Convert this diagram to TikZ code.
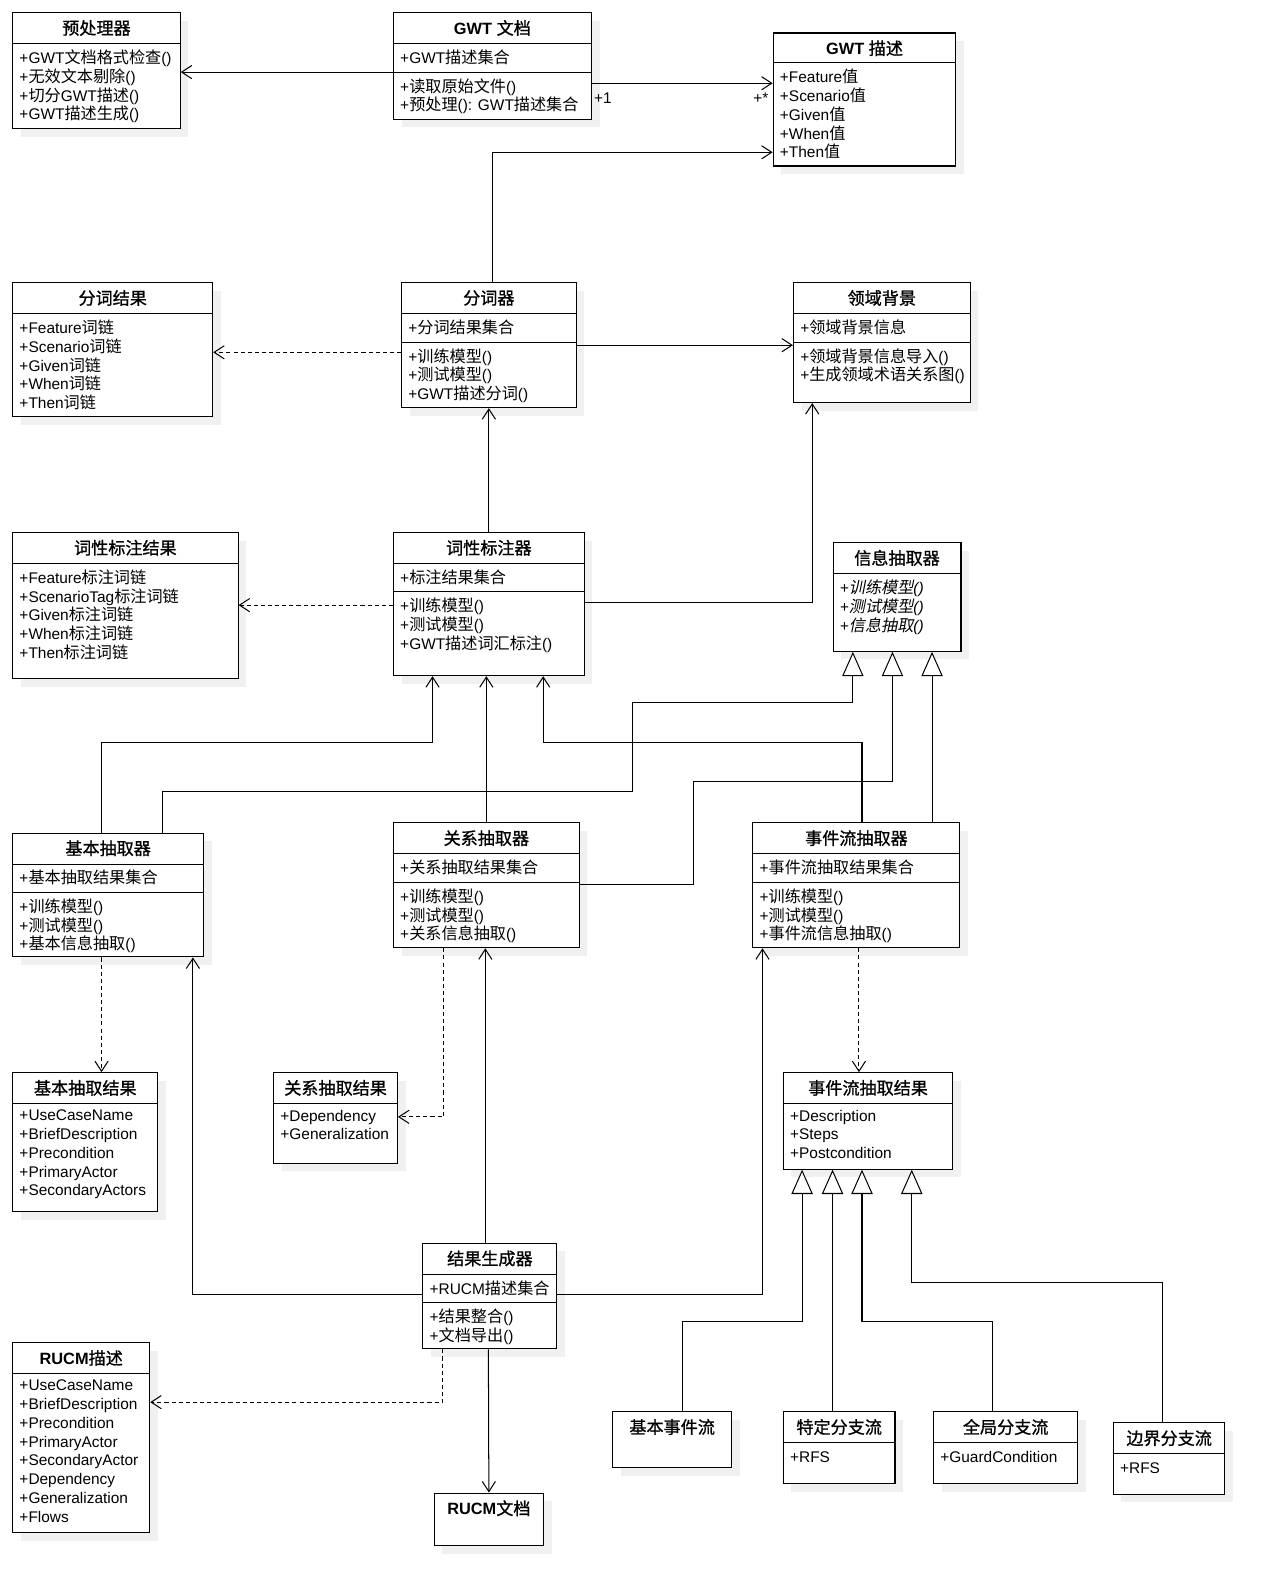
\documentclass[tikz,border=0pt]{standalone}
\usepackage{fontspec}
\setmainfont{Liberation Sans}
\newfontfamily\latfont{Liberation Sans}
\newfontfamily\cjkfont{Noto Sans CJK SC}[Scale=1.046,
  ItalicFont={Noto Sans CJK SC}, ItalicFeatures={FakeSlant=0.2},
  BoldFont={Noto Sans CJK SC}, BoldFeatures={FakeBold=1}]
\usetikzlibrary{arrows.meta, shadows}

% Han characters are set in the CJK font
\XeTeXinterchartokenstate=1
\newXeTeXintercharclass\hancls
\newcount\hancnt
\hancnt="4E00
\loop
  \XeTeXcharclass\hancnt=\hancls
  \advance\hancnt by 1
\ifnum\hancnt<"A000 \repeat
\XeTeXinterchartoks 0 \hancls = {\cjkfont}
\XeTeXinterchartoks 4095 \hancls = {\cjkfont}
\XeTeXinterchartoks \hancls 0 = {\latfont}
\XeTeXinterchartoks \hancls 4095 = {\latfont}

\newcommand\basefont{\fontsize{15.2}{18.5}\selectfont}
\newcommand\titlefont{\fontsize{16.1}{18.5}\selectfont\bfseries}

% box and title of a class
\newcommand\umlclass[6]{%
  \node[classbox, minimum width=#4, minimum height=#5] (#1) at (#2,#3) {};
  \node[classtitle] (#1-title) at ([yshift=-15.5pt]#1.north) {#6};}
% compartment line
\newcommand\umlsep[2]{%
  \draw[sepline] ([yshift=-#2pt]#1.north west) -- ([yshift=-#2pt]#1.north east);}

\begin{document}
\begin{tikzpicture}[
x=1pt, y=-1pt,
every node/.style = {font=\basefont},
classbox/.style = {draw, line width=1pt, fill=white, anchor=north west, inner sep=0pt,
  general shadow={fill=black!6, shadow xshift=8pt, shadow yshift=-8pt}},
classtitle/.style = {font=\titlefont, inner sep=0pt},
members/.style = {anchor=north west, align=left, inner sep=0pt, execute at begin node=\strut},
sepline/.style = {line width=1pt},
assoc/.style = {line width=1pt, -{Straight Barb[length=10pt, width=13pt]}},
dep/.style = {assoc, dash pattern=on 4pt off 3pt},
inherits/.style = {line width=1pt, -{Triangle[open, fill=white, length=24pt, width=21pt]}},
mult/.style = {inner sep=0pt}
]
\fill[white] (0,0) rectangle (1254,1568);
\useasboundingbox (0,0) rectangle (1254,1568);

% GWT side
\umlclass{pre}{12}{12}{165}{114}{预处理器}
\umlsep{pre}{31}
\node[members] (pre-ops) at ([xshift=7pt,yshift=-37pt]pre.north west)
  {+GWT文档格式检查()\\+无效文本剔除()\\+切分GWT描述()\\+GWT描述生成()};

\umlclass{gwtdoc}{387}{12}{195}{105}{GWT 文档}
\umlsep{gwtdoc}{31}
\umlsep{gwtdoc}{59}
\node[members] (gwtdoc-attr) at ([xshift=7pt,yshift=-37pt]gwtdoc.north west) {+GWT描述集合};
\node[members] (gwtdoc-ops) at ([xshift=7pt,yshift=-65pt]gwtdoc.north west)
  {+读取原始文件()\\+预处理(): GWT描述集合};

\umlclass{gwtdesc}{761}{32}{180}{131}{GWT 描述}
\umlsep{gwtdesc}{30}
\node[members] (gwtdesc-attr) at ([xshift=7pt,yshift=-36pt]gwtdesc.north west)
  {+Feature值\\+Scenario值\\+Given值\\+When值\\+Then值};

% segmenting and tagging
\umlclass{segres}{12}{278}{197}{132}{分词结果}
\umlsep{segres}{31}
\node[members] (segres-attr) at ([xshift=7pt,yshift=-37pt]segres.north west)
  {+Feature词链\\+Scenario词链\\+Given词链\\+When词链\\+Then词链};

\umlclass{seg}{395}{278}{172}{123}{分词器}
\umlsep{seg}{31}
\umlsep{seg}{59}
\node[members] (seg-attr) at ([xshift=7pt,yshift=-37pt]seg.north west) {+分词结果集合};
\node[members] (seg-ops) at ([xshift=7pt,yshift=-65pt]seg.north west)
  {+训练模型()\\+测试模型()\\+GWT描述分词()};

\umlclass{domain}{781}{278}{174}{118}{领域背景}
\umlsep{domain}{31}
\umlsep{domain}{59}
\node[members] (domain-attr) at ([xshift=7pt,yshift=-37pt]domain.north west) {+领域背景信息};
\node[members] (domain-ops) at ([xshift=7pt,yshift=-65pt]domain.north west)
  {+领域背景信息导入()\\+生成领域术语关系图()};

\umlclass{tagres}{12}{524}{222}{144}{词性标注结果}
\umlsep{tagres}{31}
\node[members] (tagres-attr) at ([xshift=7pt,yshift=-37pt]tagres.north west)
  {+Feature标注词链\\+ScenarioTag标注词链\\+Given标注词链\\+When标注词链\\+Then标注词链};

\umlclass{tagger}{387}{524}{188}{141}{词性标注器}
\umlsep{tagger}{31}
\umlsep{tagger}{59}
\node[members] (tagger-attr) at ([xshift=7pt,yshift=-37pt]tagger.north west) {+标注结果集合};
\node[members] (tagger-ops) at ([xshift=7pt,yshift=-65pt]tagger.north west)
  {+训练模型()\\+测试模型()\\+GWT描述词汇标注()};

% extractors
\umlclass{ie}{820}{534}{126}{107}{信息抽取器}
\umlsep{ie}{31}
\node[members, font=\basefont\itshape] (ie-ops) at ([xshift=7pt,yshift=-37pt]ie.north west)
  {+训练模型()\\+测试模型()\\+信息抽取()};

\umlclass{basic}{12}{820}{188}{122}{基本抽取器}
\umlsep{basic}{31}
\umlsep{basic}{59}
\node[members] (basic-attr) at ([xshift=7pt,yshift=-37pt]basic.north west) {+基本抽取结果集合};
\node[members] (basic-ops) at ([xshift=7pt,yshift=-65pt]basic.north west)
  {+训练模型()\\+测试模型()\\+基本信息抽取()};

\umlclass{rel}{387}{810}{183}{123}{关系抽取器}
\umlsep{rel}{31}
\umlsep{rel}{59}
\node[members] (rel-attr) at ([xshift=7pt,yshift=-37pt]rel.north west) {+关系抽取结果集合};
\node[members] (rel-ops) at ([xshift=7pt,yshift=-65pt]rel.north west)
  {+训练模型()\\+测试模型()\\+关系信息抽取()};

\umlclass{evt}{741}{810}{204}{123}{事件流抽取器}
\umlsep{evt}{31}
\umlsep{evt}{59}
\node[members] (evt-attr) at ([xshift=7pt,yshift=-37pt]evt.north west) {+事件流抽取结果集合};
\node[members] (evt-ops) at ([xshift=7pt,yshift=-65pt]evt.north west)
  {+训练模型()\\+测试模型()\\+事件流信息抽取()};

% extraction results
\umlclass{basicres}{12}{1056}{143}{137}{基本抽取结果}
\umlsep{basicres}{31}
\node[members] (basicres-attr) at ([xshift=7pt,yshift=-37pt]basicres.north west)
  {+UseCaseName\\+BriefDescription\\+Precondition\\+PrimaryActor\\+SecondaryActors};

\umlclass{relres}{269}{1056}{122}{89}{关系抽取结果}
\umlsep{relres}{31}
\node[members] (relres-attr) at ([xshift=7pt,yshift=-37pt]relres.north west)
  {+Dependency\\+Generalization};

\umlclass{evtres}{771}{1056}{167}{95}{事件流抽取结果}
\umlsep{evtres}{31}
\node[members] (evtres-attr) at ([xshift=7pt,yshift=-37pt]evtres.north west)
  {+Description\\+Steps\\+Postcondition};

% output
\umlclass{gen}{416}{1224}{132}{104}{结果生成器}
\umlsep{gen}{31}
\umlsep{gen}{59}
\node[members] (gen-attr) at ([xshift=7pt,yshift=-37pt]gen.north west) {+RUCM描述集合};
\node[members] (gen-ops) at ([xshift=7pt,yshift=-65pt]gen.north west)
  {+结果整合()\\+文档导出()};

\umlclass{rucm}{12}{1322}{135}{187}{RUCM描述}
\umlsep{rucm}{31}
\node[members] (rucm-attr) at ([xshift=7pt,yshift=-37pt]rucm.north west)
  {+UseCaseName\\+BriefDescription\\+Precondition\\+PrimaryActor\\+SecondaryActor\\+Dependency\\+Generalization\\+Flows};

\umlclass{rucmdoc}{427}{1470}{108}{52}{RUCM文档}

% flows
\umlclass{bflow}{603}{1390}{117}{55}{基本事件流}

\umlclass{sflow}{771}{1390}{110}{71}{特定分支流}
\umlsep{sflow}{31}
\node[members] (sflow-attr) at ([xshift=7pt,yshift=-37pt]sflow.north west) {+RFS};

\umlclass{gflow}{919}{1390}{142}{71}{全局分支流}
\umlsep{gflow}{31}
\node[members] (gflow-attr) at ([xshift=7pt,yshift=-37pt]gflow.north west) {+GuardCondition};

\umlclass{bdflow}{1096}{1401}{110}{70}{边界分支流}
\umlsep{bdflow}{31}
\node[members] (bdflow-attr) at ([xshift=7pt,yshift=-37pt]bdflow.north west) {+RFS};

% connectors, top part
\coordinate (gwtdoc-l) at ([yshift=-59pt]gwtdoc.north west);
\draw[assoc] (gwtdoc-l) -- (gwtdoc-l -| pre.east);
\coordinate (gwtdoc-r) at ([yshift=-70pt]gwtdoc.north east);
\draw[assoc] (gwtdoc-r) -- (gwtdoc-r -| gwtdesc.west);
\node[mult, anchor=west] (one) at ([xshift=2pt,yshift=-85pt]gwtdoc.north east) {+1};
\node[mult, anchor=east] (many) at ([xshift=-4pt,yshift=-65pt]gwtdesc.north west) {+*};
\draw[assoc] ([xshift=90pt]seg.north west) |- ([yshift=-118pt]gwtdesc.north west);

\coordinate (seg-l) at ([yshift=-69pt]seg.north west);
\draw[dep] (seg-l) -- (seg-l -| segres.east);
\coordinate (seg-r) at ([yshift=-62pt]seg.north east);
\draw[assoc] (seg-r) -- (seg-r -| domain.west);
\draw[assoc] (tagger.north) -- (tagger.north |- seg.south);

\coordinate (tagger-l) at ([yshift=-72pt]tagger.north west);
\draw[dep] (tagger-l) -- (tagger-l -| tagres.east);
\coordinate (tagger-r) at ([yshift=-69pt]tagger.north east);
\draw[assoc] (tagger-r) -| ([xshift=19pt]domain.south west);

% extractors use the tagger and inherit from the information extractor
\draw[assoc] ([xshift=88pt]basic.north west) -- ++(0,-89) -| ([xshift=39pt]tagger.south west);
\draw[assoc] (rel.north) -- (rel.north |- tagger.south);
\draw[assoc] ([xshift=108pt]evt.north west) -- ++(0,-79) -| ([xshift=148pt]tagger.south west);
\draw[inherits] ([xshift=148pt]basic.north west) -- ++(0,-40) -- ++(463,0) -- ++(0,-88) -| ([xshift=20pt]ie.south west);
\coordinate (rel-r) at ([yshift=-61pt]rel.north east);
\draw[inherits] (rel-r) -- ++(112,0) -- ++(0,-101) -| ([xshift=59pt]ie.south west);
\coordinate (evt-t) at ([xshift=177pt]evt.north west);
\draw[inherits] (evt-t) -- (evt-t |- ie.south);

% results of the extractors
\coordinate (basic-b) at ([xshift=88pt]basic.south west);
\draw[dep] (basic-b) -- (basic-b |- basicres.north);
\draw[dep] ([xshift=50pt]rel.south west) |- ([yshift=-44pt]relres.north east);
\coordinate (evt-b) at ([xshift=105pt]evt.south west);
\draw[dep] (evt-b) -- (evt-b |- evtres.north);

% result generator
\coordinate (gen-l) at ([yshift=-51pt]gen.north west);
\draw[assoc] (gen-l) -| ([xshift=178pt]basic.south west);
\coordinate (gen-t) at ([xshift=62pt]gen.north west);
\draw[assoc] (gen-t) -- (gen-t |- rel.south);
\coordinate (gen-r) at ([yshift=-51pt]gen.north east);
\draw[assoc] (gen-r) -| ([xshift=10pt]evt.south west);
\draw[dep] ([xshift=20pt]gen.south west) |- ([yshift=-59pt]rucm.north east);
\draw[assoc] ([xshift=65pt]gen.south west) -- (rucmdoc.north);

% event flow kinds
\draw[inherits] ([xshift=69pt]bflow.north west) -- ++(0,-88) -| ([xshift=19pt]evtres.south west);
\draw[inherits] ([xshift=49pt]sflow.north west) -- ([xshift=49pt]evtres.south west);
\draw[inherits] ([xshift=59pt]gflow.north west) -- ++(0,-88) -| ([xshift=78pt]evtres.south west);
\draw[inherits] ([xshift=49pt]bdflow.north west) -- ++(0,-138) -| ([xshift=127pt]evtres.south west);
\end{tikzpicture}
\end{document}
